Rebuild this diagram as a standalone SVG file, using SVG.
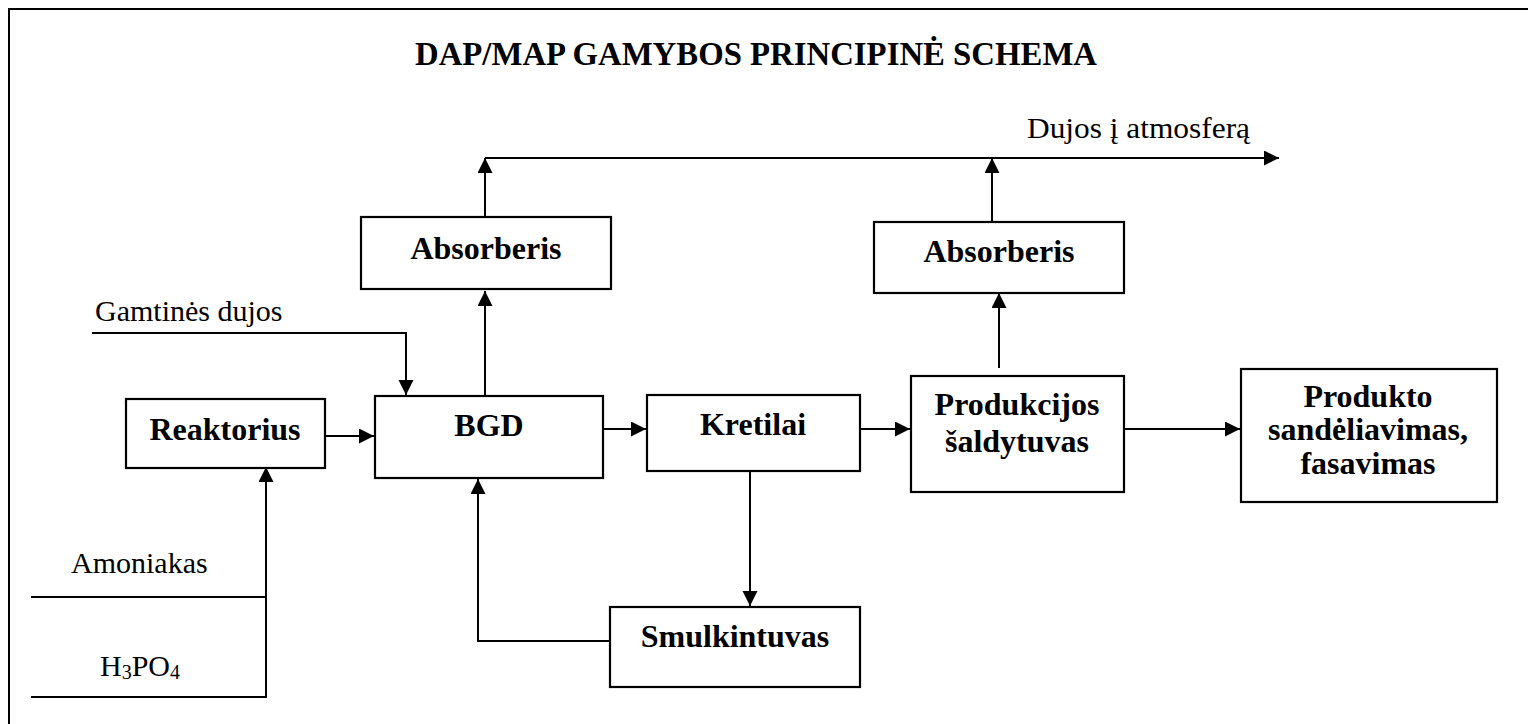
<svg xmlns="http://www.w3.org/2000/svg" width="1528" height="724" viewBox="0 0 1528 724">
  <style>
    .frame { fill: none; stroke: #000; stroke-width: 2; }
    .box { fill: #fff; stroke: #000; stroke-width: 2.2; }
    .lbl { font-family: "Liberation Serif", "Times New Roman", serif; font-weight: bold; font-size: 32px; fill: #000; text-anchor: middle; }
    .txt { font-family: "Liberation Serif", "Times New Roman", serif; font-size: 30px; fill: #000; }
    .title { font-family: "Liberation Serif", "Times New Roman", serif; font-weight: bold; font-size: 33px; fill: #000; }
    .conn { fill: none; stroke: #000; stroke-width: 2; }
  </style>
  <defs>
    <marker id="arrow" markerUnits="userSpaceOnUse" markerWidth="16" markerHeight="16" refX="15" refY="7.5" orient="auto">
      <path d="M0,0 L15,7.5 L0,15 Z" fill="#000"/>
    </marker>
  </defs>

  <rect width="1528" height="724" fill="#fff"/>
  <!-- outer frame (right and bottom edges run past the page) -->
  <rect class="frame" x="9" y="9" width="1540" height="740"/>

  <text class="title" x="415" y="65" textLength="682" lengthAdjust="spacingAndGlyphs">DAP/MAP GAMYBOS PRINCIPINĖ SCHEMA</text>

  <!-- free-standing stream labels -->
  <text class="txt" x="1027" y="138" textLength="223" lengthAdjust="spacingAndGlyphs">Dujos į atmosferą</text>
  <text class="txt" x="95" y="321">Gamtinės dujos</text>
  <text class="txt" x="71" y="573">Amoniakas</text>
  <text class="txt" x="100" y="676">H<tspan font-size="20" dy="3">3</tspan><tspan dy="-3">PO</tspan><tspan font-size="20" dy="3">4</tspan></text>

  <g id="connectors">
    <path class="conn" d="M92,333 H406 V395" marker-end="url(#arrow)"/>
    <path class="conn" d="M325,436 H374" marker-end="url(#arrow)"/>
    <path class="conn" d="M31,597 H266"/>
    <path class="conn" d="M31,697 H266 V467" marker-end="url(#arrow)"/>
    <path class="conn" d="M485,396 V291" marker-end="url(#arrow)"/>
    <path class="conn" d="M485,217 V158" marker-end="url(#arrow)"/>
    <path class="conn" d="M485,158 H1279" marker-end="url(#arrow)"/>
    <path class="conn" d="M992,222 V158" marker-end="url(#arrow)"/>
    <path class="conn" d="M999,368 V293" marker-end="url(#arrow)"/>
    <path class="conn" d="M603,429 H646" marker-end="url(#arrow)"/>
    <path class="conn" d="M860,429 H910" marker-end="url(#arrow)"/>
    <path class="conn" d="M1124,429 H1240" marker-end="url(#arrow)"/>
    <path class="conn" d="M750,471 V606" marker-end="url(#arrow)"/>
    <path class="conn" d="M610,641 H478 V479" marker-end="url(#arrow)"/>
  </g>

  <g id="absorberis-1">
    <rect class="box" x="361" y="217" width="250" height="72"/>
    <text class="lbl" x="486" y="259">Absorberis</text>
  </g>
  <g id="absorberis-2">
    <rect class="box" x="874" y="222" width="250" height="71"/>
    <text class="lbl" x="999" y="262">Absorberis</text>
  </g>
  <g id="reaktorius">
    <rect class="box" x="126" y="399" width="199" height="69"/>
    <text class="lbl" x="225" y="440">Reaktorius</text>
  </g>
  <g id="bgd">
    <rect class="box" x="375" y="396" width="228" height="82"/>
    <text class="lbl" x="489" y="436">BGD</text>
  </g>
  <g id="kretilai">
    <rect class="box" x="647" y="395" width="213" height="76"/>
    <text class="lbl" x="753" y="435">Kretilai</text>
  </g>
  <g id="produkcijos-saldytuvas">
    <rect class="box" x="911" y="376" width="213" height="116"/>
    <text class="lbl" x="1017" y="415">Produkcijos</text>
    <text class="lbl" x="1017" y="452">šaldytuvas</text>
  </g>
  <g id="produkto-sandeliavimas">
    <rect class="box" x="1241" y="369" width="256" height="133"/>
    <text class="lbl" x="1368" y="407">Produkto</text>
    <text class="lbl" x="1368" y="440">sandėliavimas,</text>
    <text class="lbl" x="1368" y="474">fasavimas</text>
  </g>
  <g id="smulkintuvas">
    <rect class="box" x="610" y="607" width="250" height="80"/>
    <text class="lbl" x="735" y="647">Smulkintuvas</text>
  </g>
</svg>
